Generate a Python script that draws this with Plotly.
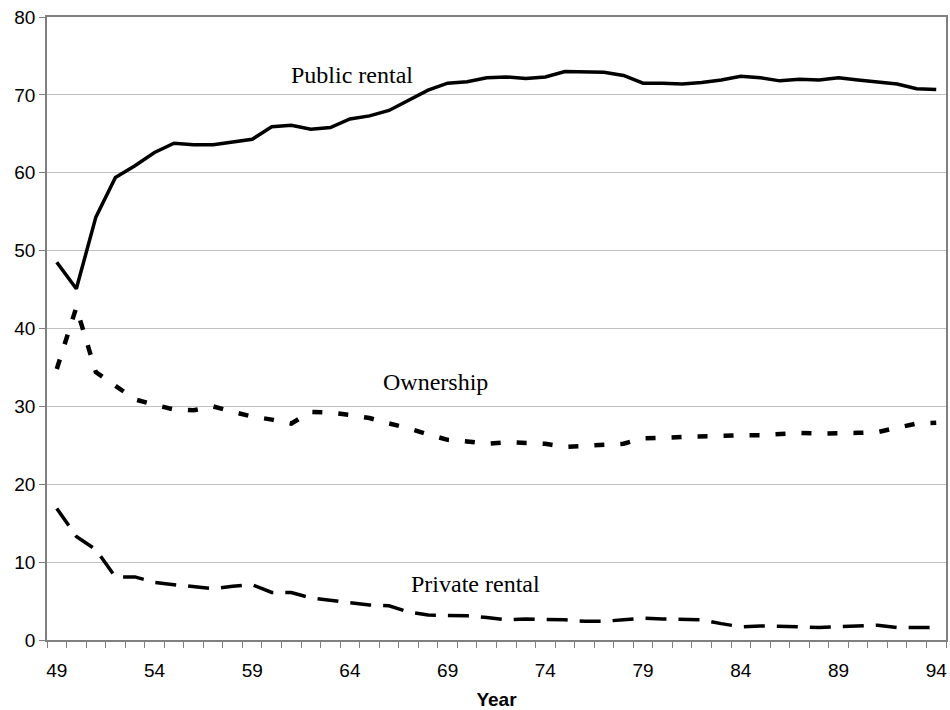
import plotly.graph_objects as go

years = list(range(49, 95))
public_rental = [48.5, 45.1, 54.3, 59.4, 60.9, 62.6, 63.8, 63.6, 63.6, 63.9, 64.3, 65.9, 66.1, 65.6, 65.8, 66.9,
                 67.3, 68.0, 69.3, 70.6, 71.5, 71.7, 72.2, 72.3, 72.1, 72.3, 73.0, 73.0, 72.9, 72.5, 71.5,
                 71.5, 71.4, 71.6, 71.9, 72.4, 72.2, 71.8, 72.0, 71.9, 72.2, 71.9, 71.7, 71.4, 70.8, 70.7]
ownership = [34.8, 42.7, 34.4, 32.6, 30.9, 30.2, 29.6, 29.5, 30.0, 29.3, 28.7, 28.3, 27.8, 29.3, 29.2, 28.9,
             28.5, 27.8, 27.2, 26.4, 25.7, 25.5, 25.2, 25.4, 25.3, 25.2, 24.8, 24.9, 25.1, 25.2, 25.9,
             26.0, 26.1, 26.2, 26.3, 26.3, 26.3, 26.5, 26.6, 26.5, 26.5, 26.6, 26.7, 27.2, 27.8, 27.9]
private_rental = [16.9, 13.3, 11.6, 8.1, 8.1, 7.4, 7.1, 6.9, 6.6, 6.9, 7.1, 6.1, 6.1, 5.4, 5.1, 4.8,
                  4.5, 4.4, 3.6, 3.2, 3.2, 3.1, 2.9, 2.6, 2.7, 2.7, 2.6, 2.4, 2.4, 2.6, 2.8,
                  2.7, 2.7, 2.6, 2.1, 1.7, 1.8, 1.8, 1.7, 1.6, 1.7, 1.8, 1.9, 1.6, 1.6, 1.6]
x_tick_vals = [49, 54, 59, 64, 69, 74, 79, 84, 89, 94]
x_tick_text = [str(v) for v in x_tick_vals]
y_tick_vals = list(range(0, 81, 10))

labels = [
    ("Public rental", 64.1, 72.5),
    ("Ownership", 68.4, 33.1),
    ("Private rental", 70.4, 7.2),
]

fig = go.Figure()
fig.add_trace(go.Scatter(x=years, y=public_rental, mode="lines", name="Public rental",
                         line=dict(color="black", width=3.5)))
fig.add_trace(go.Scatter(x=years, y=ownership, mode="lines", name="Ownership",
                         line=dict(color="black", width=4.5, dash="10px,16px")))
fig.add_trace(go.Scatter(x=years, y=private_rental, mode="lines", name="Private rental",
                         line=dict(color="black", width=3.5, dash="21px,12px")))

for text, xv, yv in labels:
    fig.add_annotation(x=xv, y=yv, text=text, showarrow=False,
                       font=dict(family="Liberation Serif", size=24, color="black"))

axis_font = dict(family="Liberation Sans", size=19, color="black")
fig.update_layout(
    width=950, height=710,
    margin=dict(l=47, r=4, t=17, b=70, autoexpand=False),
    paper_bgcolor="white", plot_bgcolor="white",
    showlegend=False,
    xaxis=dict(
        range=[48.5, 94.5], tickvals=x_tick_vals, ticktext=x_tick_text,
        ticks="", showgrid=False, zeroline=False,
        showline=True, linecolor="#808080", linewidth=1.5, mirror=True,
        tickfont=axis_font, ticklabelstandoff=12, automargin=False,
        minor=dict(tick0=48.5, dtick=1, ticks="outside", ticklen=6, tickcolor="#808080", showgrid=False),
        title=dict(text="<b>Year</b>", font=dict(family="Liberation Sans", size=19, color="black"), standoff=28),
    ),
    yaxis=dict(
        range=[0, 80], tickvals=y_tick_vals, ticks="outside", ticklen=6, tickcolor="#808080",
        showgrid=True, gridcolor="#c0c0c0", gridwidth=1, zeroline=False,
        showline=True, linecolor="#808080", linewidth=1.5, mirror=True,
        tickfont=axis_font, automargin=False,
    ),
)

fig.write_html("out.html", config={"displayModeBar": False},
               post_script="document.body.style.margin='0';")
